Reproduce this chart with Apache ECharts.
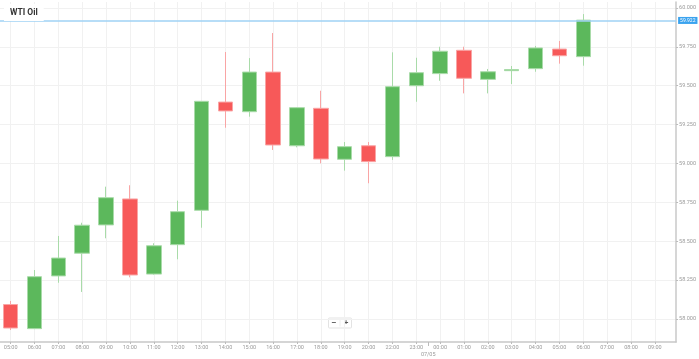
<!DOCTYPE html>
<html>
<head>
<meta charset="utf-8">
<script src="https://cdn.jsdelivr.net/npm/echarts@6/dist/echarts.min.js"></script>
<style>
html,body{margin:0;padding:0;background:#fff;}
#chart{width:699px;height:359px;}
</style>
</head>
<body>
<div id="chart"></div>
<script>
// ---- data ----
var timeLabels = ['05:00','06:00','07:00','08:00','09:00','10:00','11:00','12:00','13:00','14:00','15:00','16:00','17:00','18:00','19:00','20:00','22:00','23:00','00:00','01:00','02:00','03:00','04:00','05:00','06:00','07:00','08:00','09:00'];
var opens  = [58.093,57.938,58.277,58.423,58.605,58.772,58.289,58.478,58.699,59.395,59.333,59.588,59.114,59.355,59.027,59.114,59.044,59.500,59.578,59.728,59.541,59.597,59.610,59.736,59.687];
var closes = [57.942,58.272,58.392,58.603,58.780,58.283,58.471,58.690,59.400,59.338,59.588,59.119,59.359,59.029,59.108,59.012,59.494,59.584,59.722,59.548,59.590,59.604,59.743,59.693,59.922];
var lows   = [57.929,57.935,58.233,58.174,58.519,58.268,58.285,58.384,58.587,59.230,59.301,59.087,59.104,59.001,58.954,58.873,59.023,59.397,59.532,59.451,59.451,59.511,59.590,59.642,59.629];
var highs  = [58.116,58.315,58.534,58.619,58.851,58.860,58.487,58.761,59.402,59.717,59.678,59.839,59.362,59.468,59.138,59.138,59.715,59.680,59.751,59.751,59.608,59.627,59.756,59.788,59.961];
var priceTicks = [58.000,58.250,58.500,58.750,59.000,59.250,59.500,59.750,60.000];
var lastPrice = 59.922;
var dayLabel = '07/05';
var dayBoundary = 17.5;
var titleText = 'WTI Oil';

var catIdx = timeLabels.map(function(_, i){ return i; });
var candleData = opens.map(function(o, i){ return [i, o, closes[i], lows[i], highs[i]]; });

var chart = echarts.init(document.getElementById('chart'));
var lbl = {color:'#9a9a9a', fontSize:5.5, fontFamily:'Roboto, sans-serif'};
chart.setOption({
  animation:false,
  backgroundColor:'#fff',
  title:{text:titleText, left:4, top:4, padding:[4,6,4,6], backgroundColor:'#fff',
    textStyle:{fontSize:8.5, fontWeight:'bold', color:'#333', fontFamily:'Roboto, sans-serif'}},
  grid:{left:0, right:20, top:2, bottom:17, containLabel:false, show:true, borderColor:'#e6e6e6', borderWidth:0},
  xAxis:[{
    type:'value', min:-0.447, max:27.89, position:'bottom',
    axisLine:{show:true, onZero:false, lineStyle:{color:'#c8c8c8', width:1.5}},
    axisTick:{show:true, customValues:catIdx, length:2, lineStyle:{color:'#bbb'}},
    axisLabel:Object.assign({customValues:catIdx, margin:3, formatter:function(v){ return timeLabels[Math.round(v)] || ''; }}, lbl),
    splitLine:{show:true, lineStyle:{color:'#f1f1f1', width:1}}
  },{
    type:'value', min:-0.447, max:27.89, position:'bottom',
    axisLine:{show:false, onZero:false},
    axisTick:{show:true, customValues:[dayBoundary], length:5, lineStyle:{color:'#bbb', type:'dashed'}},
    axisLabel:Object.assign({customValues:[dayBoundary], margin:10, formatter:function(){ return dayLabel; }}, lbl),
    splitLine:{show:false}
  }],
  yAxis:{
    type:'value', position:'right', min:57.852, max:60.0386, scale:true,
    axisLine:{show:true, onZero:false, lineStyle:{color:'#c8c8c8', width:1.5}},
    axisTick:{show:true, customValues:priceTicks, length:2, lineStyle:{color:'#bbb'}},
    axisLabel:Object.assign({customValues:priceTicks, margin:3, formatter:function(v){ return v.toFixed(3); }}, lbl),
    splitLine:{show:true, lineStyle:{color:'#f1f1f1', width:1}}
  },
  series:[{
    type:'candlestick', xAxisIndex:0, yAxisIndex:0,
    encode:{x:0, y:[1,2,3,4]},
    barWidth:15,
    data:candleData,
    itemStyle:{color:'#5cb85c', color0:'#f75959', borderColor:'#a9dba9', borderColor0:'#f9a5a5', borderWidth:1},
    markLine:{silent:true, symbol:['none','none'], animation:false,
      lineStyle:{color:'#9fd2f5', width:1.5, type:'solid'},
      label:{show:true, position:'end', distance:2, formatter:function(){ return lastPrice.toFixed(3); },
        backgroundColor:'#3aa3ef', color:'#fff', fontSize:5, padding:[1,2,1,2], fontFamily:'Roboto, sans-serif'},
      data:[{yAxis:lastPrice}]
    }
  }],
  graphic:[{
    type:'group', left:328, top:317, children:[
      {type:'rect', shape:{x:0,y:0,width:23,height:10, r:1}, style:{fill:'#fff', stroke:'#e3e3e3', lineWidth:1}},
      {type:'text', style:{x:5.5, y:5, text:'−', fill:'#555', fontSize:8, fontWeight:'bold', align:'center', verticalAlign:'middle'}},
      {type:'line', shape:{x1:11.5,y1:1.5,x2:11.5,y2:8.5}, style:{stroke:'#eee'}},
      {type:'text', style:{x:17.5, y:5, text:'+', fill:'#555', fontSize:8, fontWeight:'bold', align:'center', verticalAlign:'middle'}}
    ]
  }]
});
</script>
</body>
</html>
